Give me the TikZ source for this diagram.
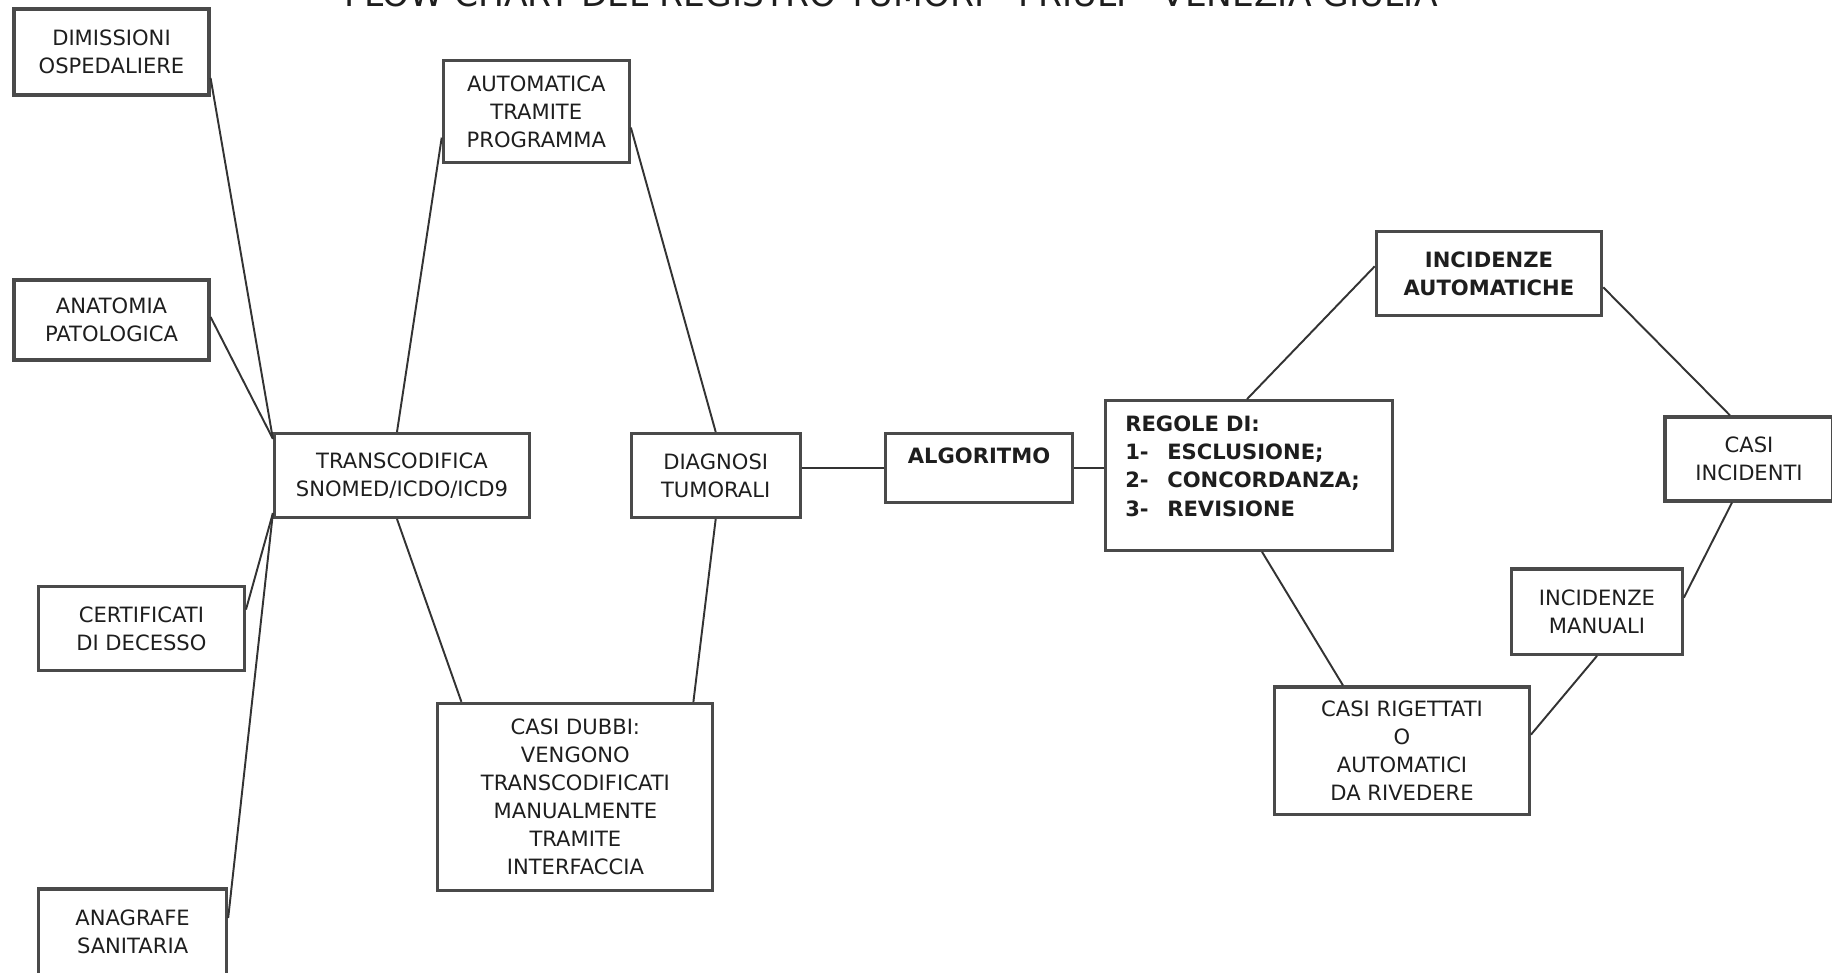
\documentclass[tikz,border=0pt]{standalone}
\usepackage{fontspec}
\setmainfont{DejaVu Sans}
\usepackage{tikz}
\usetikzlibrary{calc}
\definecolor{FcLine}{HTML}{333333}
\definecolor{FcBorder}{HTML}{4A4A4A}
\definecolor{FcText}{HTML}{1E1E1E}
\newcommand{\FcTitleFont}{\fontsize{9.8}{11}\selectfont}
\newcommand{\FcBoxFont}{\fontsize{6}{8}\selectfont}
\newcommand{\FcBoldFont}{\fontsize{6}{8}\selectfont\bfseries}
\newcommand{\FcItem}[2]{\makebox[0.42cm][l]{#1}#2}
\tikzset{
  fcbase/.style={
    draw=FcBorder,
    fill=white,
    line width=0.9pt,
    rectangle,
    align=center,
    inner sep=1pt,
    text=FcText,
    font=\FcBoxFont
  },
  srcbox/.style={fcbase},
  procbox/.style={fcbase},
  boldbox/.style={fcbase, font=\FcBoldFont},
  rulebox/.style={fcbase, font=\FcBoldFont, align=left, inner xsep=0.2cm},
  fclink/.style={
    draw=FcLine,
    line width=0.55pt
  }
}
\begin{document}
\begin{tikzpicture}[x=1cm,y=1cm]
\useasboundingbox (0,0) rectangle (18.32,9.73);
\clip (0,0) rectangle (18.32,9.73);

\node[font=\FcTitleFont, text=FcText, anchor=base] (title) at (8.91,9.66)
  {FLOW CHART DEL REGISTRO TUMORI - FRIULI - VENEZIA GIULIA};

% sources
\node[srcbox, minimum width=1.95cm, minimum height=0.86cm] (dimis) at (1.115,9.21)
  {DIMISSIONI\\OSPEDALIERE};
\node[srcbox, minimum width=1.95cm, minimum height=0.80cm] (anatomia) at (1.115,6.53)
  {ANATOMIA\\PATOLOGICA};
\node[srcbox, minimum width=2.06cm, minimum height=0.84cm] (certif) at (1.414,3.444)
  {CERTIFICATI\\DI DECESSO};
\node[srcbox, minimum width=1.88cm, minimum height=0.86cm] (anagrafe) at (1.326,0.41)
  {ANAGRAFE\\SANITARIA};

% coding
\node[procbox, minimum width=2.55cm, minimum height=0.84cm] (trans) at (4.02,4.975)
  {TRANSCODIFICA\\SNOMED/ICDO/ICD9};
\node[procbox, minimum width=1.86cm, minimum height=1.02cm] (autom) at (5.363,8.614)
  {AUTOMATICA\\TRAMITE\\PROGRAMMA};
\node[procbox, minimum width=2.75cm, minimum height=1.87cm] (dubbi) at (5.754,1.761)
  {CASI DUBBI:\\VENGONO\\TRANSCODIFICATI\\MANUALMENTE\\TRAMITE\\INTERFACCIA};
\node[procbox, minimum width=1.69cm, minimum height=0.84cm] (diagnosi) at (7.157,4.975)
  {DIAGNOSI\\TUMORALI};

% checks
\node[boldbox, minimum width=1.87cm, minimum height=0.69cm, text height=0.16cm, text depth=0.25cm] (algoritmo) at (9.79,5.05)
  {ALGORITMO};
\node[rulebox, text width=2.474cm, minimum height=1.495cm, text height=0.16cm, text depth=1.036cm] (regole) at (12.49,4.975)
  {REGOLE DI:\\
  \FcItem{1-}{ESCLUSIONE;}\\
  \FcItem{2-}{CONCORDANZA;}\\
  \FcItem{3-}{REVISIONE}};
\node[boldbox, minimum width=2.255cm, minimum height=0.84cm] (incauto) at (14.89,6.996)
  {INCIDENZE\\AUTOMATICHE};
\node[procbox, minimum width=1.68cm, minimum height=0.84cm] (casiinc) at (17.49,5.14)
  {CASI\\INCIDENTI};
\node[procbox, minimum width=1.705cm, minimum height=0.853cm] (incman) at (15.97,3.613)
  {INCIDENZE\\MANUALI};
\node[procbox, minimum width=2.547cm, minimum height=1.274cm] (rigettati) at (14.02,2.223)
  {CASI RIGETTATI\\O\\AUTOMATICI\\DA RIVEDERE};

% connectors
\draw[fclink] ([yshift=-0.26cm]dimis.east) -- ([yshift=-0.07cm]trans.north west);
\draw[fclink] ([yshift=0.03cm]anatomia.east) -- ([yshift=-0.07cm]trans.north west);
\draw[fclink] ([yshift=0.19cm]certif.east) -- ([yshift=0.06cm]trans.south west);
\draw[fclink] ([yshift=0.14cm]anagrafe.east) -- ([yshift=0.06cm]trans.south west);

\draw[fclink] ([xshift=-0.05cm]trans.north) -- ([yshift=-0.26cm]autom.west);
\draw[fclink] ([yshift=-0.16cm]autom.east) -- (diagnosi.north);
\draw[fclink] ([xshift=-0.05cm]trans.south) -- ([xshift=-1.14cm]dubbi.north);
\draw[fclink] (diagnosi.south) -- ([xshift=1.18cm]dubbi.north);

\draw[fclink] (diagnosi.east |- algoritmo.west) -- (algoritmo.west);
\draw[fclink] (algoritmo.east) -- (algoritmo.east -| regole.west);

\draw[fclink] ([xshift=-0.02cm]regole.north) -- ([yshift=0.07cm]incauto.west);
\draw[fclink] ([yshift=-0.14cm]incauto.east) -- ([xshift=-0.19cm]casiinc.north);
\draw[fclink] ([xshift=-0.17cm]casiinc.south) -- ([yshift=0.14cm]incman.east);
\draw[fclink] (incman.south) -- ([yshift=0.16cm]rigettati.east);
\draw[fclink] ([xshift=-0.59cm]rigettati.north) -- ([xshift=0.13cm]regole.south);

\end{tikzpicture}
\end{document}
